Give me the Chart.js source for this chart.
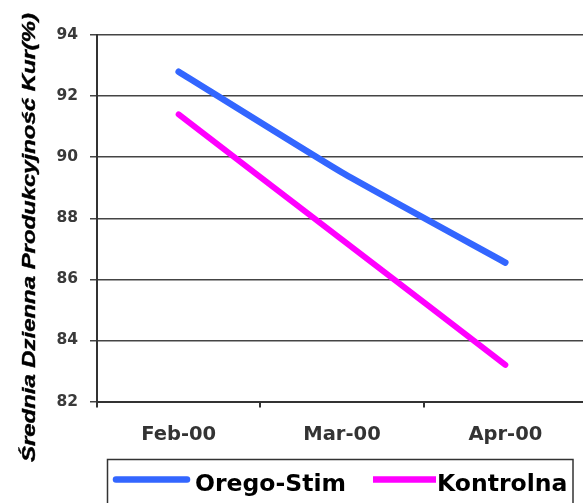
<!DOCTYPE html>
<html>
<head>
<meta charset="utf-8">
<script src="https://cdn.jsdelivr.net/npm/chart.js@4"></script>
<style>
  html, body { margin: 0; padding: 0; background: #fff; overflow: hidden; }
  #wrap { width: 583px; height: 503px; position: relative; overflow: hidden; }
</style>
</head>
<body>
<div id="wrap"><canvas id="c" width="587" height="503"></canvas></div>
<script>
const categories = ['Feb-00', 'Mar-00', 'Apr-00'];
const seriesNames = ['Orego-Stim', 'Kontrolna'];
const oregoStim = [92.8, 89.5, 86.55];
const kontrolna = [91.4, 87.3, 83.2];
const yTitle = 'Średnia Dzienna Produkcyjność Kur(%)';
const yMin = 82, yMax = 94, yStep = 2;

const titlePlugin = {
  id: 'yTitle',
  afterDraw(chart) {
    const ctx = chart.ctx;
    ctx.save();
    ctx.translate(35, 237.5);
    ctx.rotate(-Math.PI / 2);
    ctx.font = 'italic bold 18px "Liberation Sans", Arial, sans-serif';
    const w = ctx.measureText(yTitle).width;
    ctx.scale(449 / w, 1);
    ctx.fillStyle = '#000';
    ctx.strokeStyle = '#000';
    ctx.lineWidth = 0.4;
    ctx.textAlign = 'center';
    ctx.textBaseline = 'alphabetic';
    ctx.fillText(yTitle, 0, 0);
    ctx.strokeText(yTitle, 0, 0);
    ctx.restore();
  }
};

const legendPlugin = {
  id: 'boxLegend',
  afterDraw(chart) {
    const ctx = chart.ctx;
    const ds = chart.data.datasets;
    ctx.save();
    ctx.strokeStyle = '#333';
    ctx.lineWidth = 1.5;
    ctx.strokeRect(107.5, 459.5, 465.5, 60);
    const items = [
      {x1: 116, x2: 187, tx: 195, cap: 'round'},
      {x1: 373, x2: 436, tx: 437, cap: 'butt'}
    ];
    ctx.font = 'bold 23.5px "DejaVu Sans", Verdana, sans-serif';
    ctx.textBaseline = 'alphabetic';
    ctx.textAlign = 'left';
    items.forEach((it, i) => {
      ctx.beginPath();
      ctx.strokeStyle = ds[i].borderColor;
      ctx.lineWidth = 6.5;
      ctx.lineCap = it.cap;
      ctx.moveTo(it.x1, 479.5);
      ctx.lineTo(it.x2, 479.5);
      ctx.stroke();
      ctx.fillStyle = '#000';
      ctx.fillText(ds[i].label, it.tx, 491);
    });
    ctx.restore();
  }
};

new Chart(document.getElementById('c'), {
  type: 'line',
  data: {
    labels: categories,
    datasets: [
      { label: seriesNames[0], data: oregoStim, borderColor: '#3366FF', backgroundColor: '#3366FF',
        borderWidth: 6.5, pointRadius: 0, tension: 0.15, borderCapStyle: 'round', borderJoinStyle: 'round' },
      { label: seriesNames[1], data: kontrolna, borderColor: '#FF00FF', backgroundColor: '#FF00FF',
        borderWidth: 6, pointRadius: 0, tension: 0.05, borderCapStyle: 'round', borderJoinStyle: 'round' }
    ]
  },
  options: {
    responsive: false,
    animation: false,
    layout: { padding: { top: 35, left: 0, right: 0, bottom: 0 } },
    plugins: { legend: { display: false }, tooltip: { enabled: false } },
    scales: {
      x: {
        type: 'category',
        offset: true,
        grid: { offset: true, drawOnChartArea: false, tickLength: 6, color: '#333', lineWidth: 2 },
        border: { color: '#333', width: 2 },
        ticks: { font: { family: '"DejaVu Sans", Verdana, sans-serif', weight: 'bold', size: 19.5 },
                 color: '#333', padding: 16, maxRotation: 0 },
        afterFit(s) { s.height = 101.5; }
      },
      y: {
        min: yMin, max: yMax,
        ticks: { stepSize: yStep, font: { family: '"DejaVu Sans", Verdana, sans-serif', weight: 'bold', size: 15.5 },
                 color: '#3a3a3a', padding: 12 },
        grid: { color: '#444', lineWidth: 1.5, tickLength: 7 },
        border: { color: '#333', width: 2 },
        afterFit(s) { s.width = 97; }
      }
    }
  },
  plugins: [titlePlugin, legendPlugin]
});
</script>
</body>
</html>
